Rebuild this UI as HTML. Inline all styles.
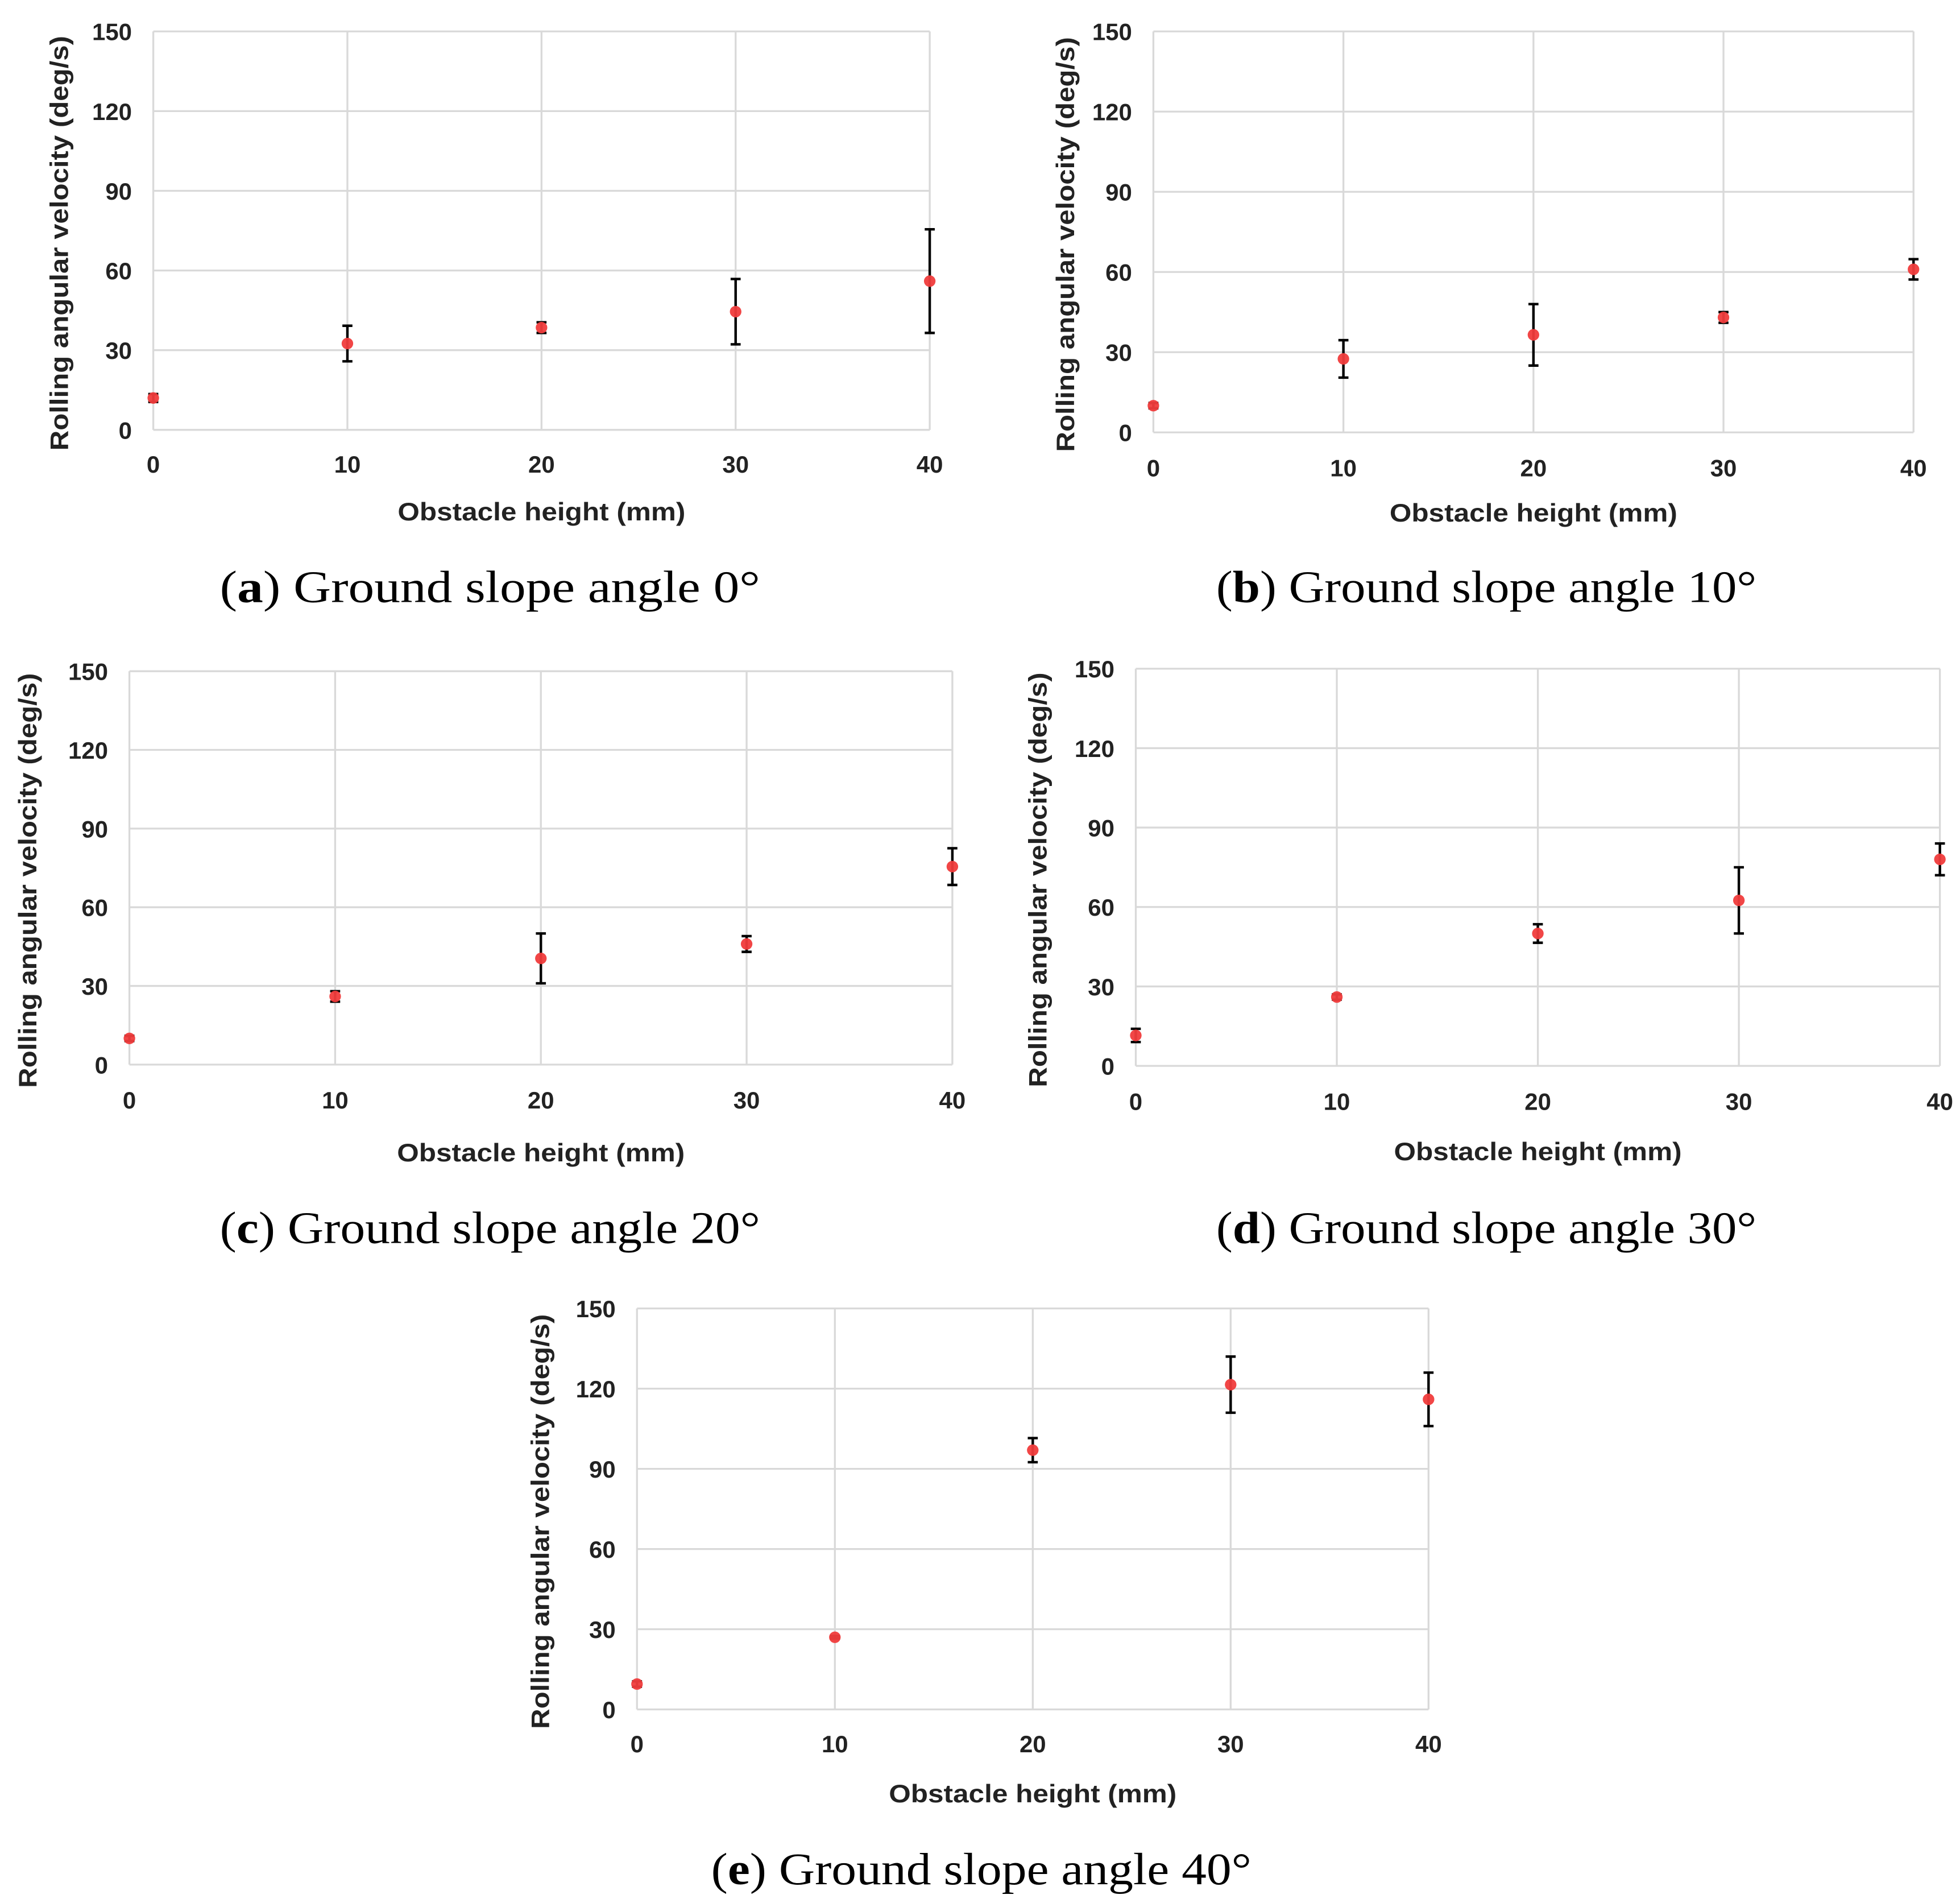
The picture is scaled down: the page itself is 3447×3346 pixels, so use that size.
<!DOCTYPE html>
<html><head><meta charset="utf-8"><style>
html,body{margin:0;padding:0;background:#fff}
svg{display:block}
</style></head><body>
<svg id="fig" width="3447" height="3346" viewBox="0 0 1560 1514" preserveAspectRatio="none" xmlns="http://www.w3.org/2000/svg" font-family="'Liberation Sans', sans-serif">
<rect width="1560" height="1514" fill="#fff"/>
</svg>
<script>
const xCategories = [0, 10, 20, 30, 40];
const yTicks = [0, 30, 60, 90, 120, 150];
const seriesA = [12, 32.5, 38.5, 44.5, 56];
const errA = [1.5, 6.7, 2, 12.3, 19.5];
const seriesB = [10, 27.5, 36.5, 43, 61];
const errB = [1, 7, 11.5, 2, 3.8];
const seriesC = [10, 26, 40.5, 46, 75.5];
const errC = [1, 2, 9.5, 3, 7];
const seriesD = [11.5, 26, 50, 62.5, 78];
const errD = [2.5, 1, 3.5, 12.5, 6];
const seriesE = [9.5, 27, 97, 121.5, 116];
const errE = [1, 0.5, 4.5, 10.5, 10];
const captions = ["a","b","c","d","e"];
const angles = ["0°","10°","20°","30°","40°"];

const panels = [
 {l:122,r:740,b:342,t:25,ytx:47,xly:369,xty:407,cx:390,cy:467,v:seriesA,e:errA},
 {l:918,r:1523,b:344,t:25,ytx:848,xly:372,xty:408,cx:1183,cy:467,v:seriesB,e:errB},
 {l:103,r:758,b:847,t:534,ytx:22,xly:875,xty:917,cx:390,cy:977,v:seriesC,e:errC},
 {l:904,r:1544,b:848,t:532,ytx:826,xly:876,xty:916,cx:1183,cy:977,v:seriesD,e:errD},
 {l:507,r:1137,b:1360,t:1041,ytx:430,xly:1387,xty:1427,cx:781,cy:1487,v:seriesE,e:errE}
];
const NS="http://www.w3.org/2000/svg";
const svg=document.getElementById('fig');
function mk(tag,attrs,parent){const el=document.createElementNS(NS,tag);for(const k in attrs)el.setAttribute(k,attrs[k]);(parent||svg).appendChild(el);return el;}

panels.forEach((p,i)=>{
 const g=mk('g',{});
 
 
 const xs=v=>p.l+(v-xCategories[0])/(xCategories[xCategories.length-1]-xCategories[0])*(p.r-p.l);
 const ys=v=>p.b-(v-yTicks[0])/(yTicks[yTicks.length-1]-yTicks[0])*(p.b-p.t);
 yTicks.forEach(t=>{
  const ln=mk('line',{x1:p.l,x2:p.r,y1:ys(t),y2:ys(t),stroke:'#d9d9d9','stroke-width':1.5},g);
  
  
  const tx=mk('text',{x:p.l-17,y:ys(t)+7,'text-anchor':'end','font-size':19,'font-weight':'bold',fill:'#222'},g);
  tx.textContent=t;
  
  
 });
 xCategories.forEach(c=>{
  const ln=mk('line',{x1:xs(c),x2:xs(c),y1:p.t,y2:p.b,stroke:'#d9d9d9','stroke-width':1.5},g);
  
  
  const tx=mk('text',{x:xs(c),y:p.xly+7,'text-anchor':'middle','font-size':19,'font-weight':'bold',fill:'#222'},g);
  tx.textContent=c;
  
  
 });
 p.v.forEach((v,k)=>{
  const x=xs(xCategories[k]);
  const hi=ys(v+p.e[k]), lo=ys(v-p.e[k]);
  const eb=mk('path',{d:`M${x},${hi}V${lo}M${x-4},${hi}H${x+4}M${x-4},${lo}H${x+4}`,stroke:'#000','stroke-width':2,fill:'none'},g);
  
  
  const d=mk('circle',{cx:x,cy:ys(v),r:4.6,fill:'#f03c3c','fill-opacity':0.95},g);
  
  
 });
 const cxm=(p.l+p.r)/2;
 const xt=mk('text',{x:cxm,y:p.xty+7,'text-anchor':'middle','font-size':20,'font-weight':'bold',fill:'#222',textLength:229,lengthAdjust:'spacingAndGlyphs'},g);
 xt.textContent='Obstacle height (mm)';
 
 
 const ym=(p.t+p.b)/2+10;
 const yt=mk('text',{x:0,y:0,transform:`translate(${p.ytx+7},${ym}) rotate(-90)`,'text-anchor':'middle','font-size':20,'font-weight':'bold',fill:'#222',textLength:330,lengthAdjust:'spacingAndGlyphs'},g);
 yt.textContent='Rolling angular velocity (deg/s)';
 
 
 const cap=mk('text',{x:p.cx,y:p.cy+12,'text-anchor':'middle','font-size':36,fill:'#000','font-family':"'Liberation Serif', serif",textLength:430,lengthAdjust:'spacingAndGlyphs'},g);
 
 
 const t1=mk('tspan',{},cap);t1.textContent='(';
 const t2=mk('tspan',{'font-weight':'bold'},cap);t2.textContent=captions[i];
 const t3=mk('tspan',{},cap);t3.textContent=') Ground slope angle '+angles[i];
});
</script>
</body></html>
